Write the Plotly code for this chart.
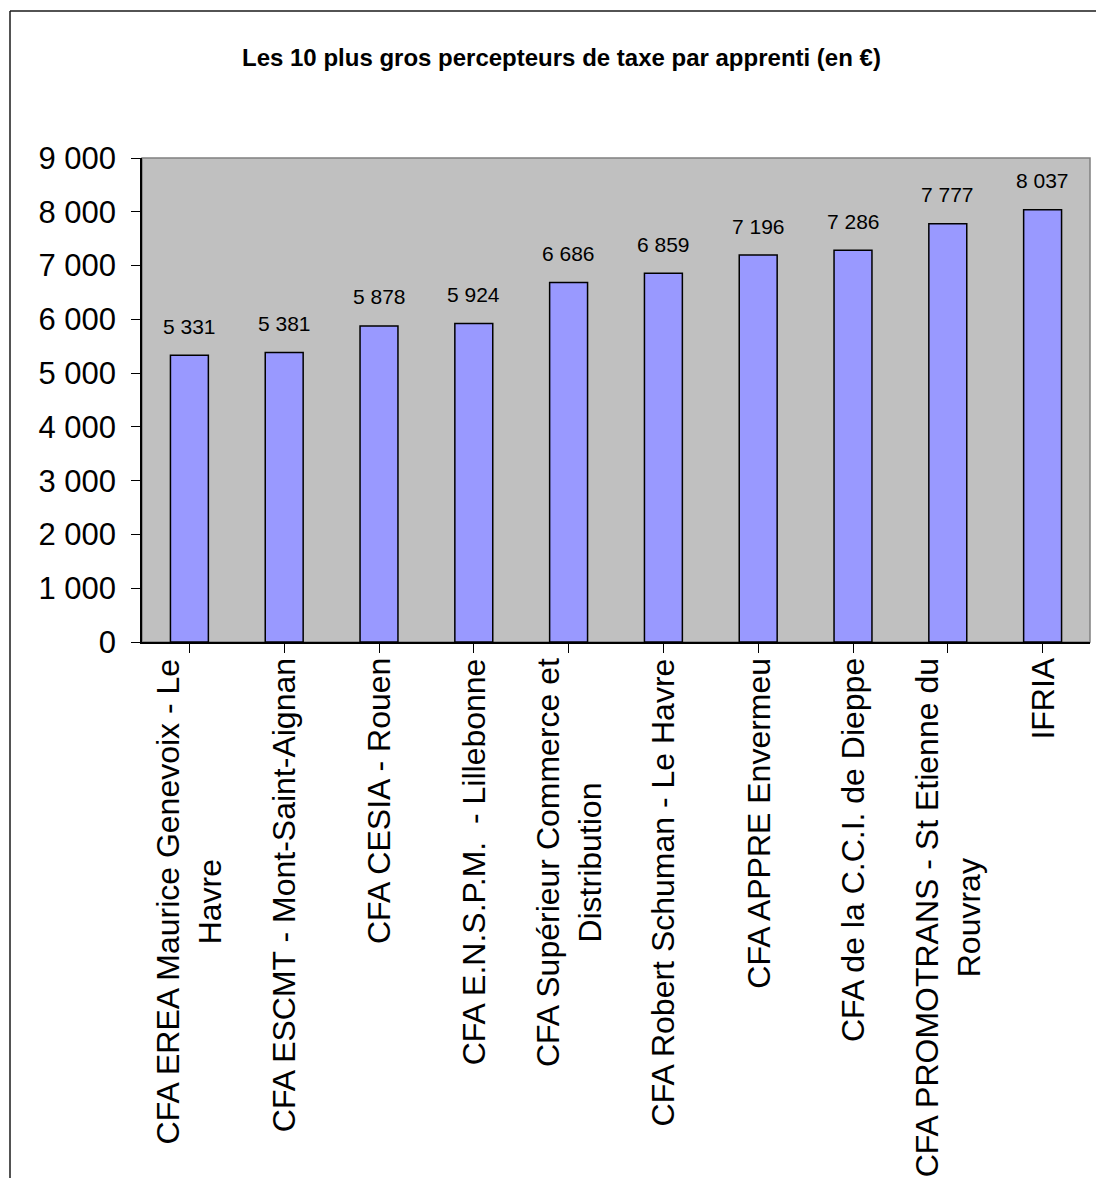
import plotly.graph_objects as go

categories = [
    "CFA EREA Maurice Genevoix - Le<br>Havre",
    "CFA ESCMT - Mont-Saint-Aignan",
    "CFA CESIA - Rouen",
    "CFA E.N.S.P.M.  - Lillebonne",
    "CFA Supérieur Commerce et<br>Distribution",
    "CFA Robert Schuman - Le Havre",
    "CFA APPRE Envermeu",
    "CFA de la C.C.I. de Dieppe",
    "CFA PROMOTRANS - St Etienne du<br>Rouvray",
    "IFRIA",
]
values = [5331, 5381, 5878, 5924, 6686, 6859, 7196, 7286, 7777, 8037]
y_ticks = [0, 1000, 2000, 3000, 4000, 5000, 6000, 7000, 8000, 9000]
title_text = "Les 10 plus gros percepteurs de taxe par apprenti (en €)"

FONT = "Liberation Sans, Arial, sans-serif"

def fmt(v):
    return f"{v:,}".replace(",", " ")

# paper coords helpers (plot area: x 142..1090, y 158..642)
def px_x(p):
    return (p - 142) / 948
def px_y(p):
    return (642 - p) / 484

fig = go.Figure()
fig.add_trace(go.Bar(
    x=list(range(len(categories))),
    y=values,
    width=0.4,
    marker=dict(color="#9999FF", line=dict(color="#000000", width=1.5)),
    hoverinfo="skip",
))

annotations = []
for i, v in enumerate(values):
    annotations.append(dict(
        x=i, y=v, xref="x", yref="y", text=fmt(v), showarrow=False,
        yanchor="middle", xanchor="center", yshift=29,
        font=dict(family=FONT, size=21, color="#000000"),
    ))
for i, c in enumerate(categories):
    annotations.append(dict(
        x=i, y=0, xref="x", yref="paper", text=c, showarrow=False,
        textangle=-90, align="center", xanchor="center", yanchor="top",
        yshift=-14,
        font=dict(family=FONT, size=32, color="#000000"),
    ))
annotations.append(dict(
    x=px_x(561), y=px_y(57), xref="paper", yref="paper",
    text="<b>" + title_text + "</b>", showarrow=False,
    xanchor="center", yanchor="middle",
    font=dict(family=FONT, size=24, color="#000000"),
))

shapes = [
    dict(type="rect", xref="paper", yref="paper", x0=0, x1=1, y0=0, y1=1,
         line=dict(color="#808080", width=1.5), layer="below"),
    dict(type="line", xref="paper", yref="paper", x0=px_x(10), x1=px_x(10),
         y0=px_y(11), y1=px_y(1190), line=dict(color="#1a1a1a", width=1.5)),
    dict(type="line", xref="paper", yref="paper", x0=px_x(10), x1=px_x(1120),
         y0=px_y(11), y1=px_y(11), line=dict(color="#1a1a1a", width=1.5)),
]

fig.update_layout(
    width=1096, height=1178,
    margin=dict(l=142, r=6, t=158, b=536),
    paper_bgcolor="#FFFFFF",
    plot_bgcolor="#C0C0C0",
    showlegend=False,
    separators=", ",
    annotations=annotations,
    shapes=shapes,
    font=dict(family=FONT, color="#000000"),
    xaxis=dict(
        range=[-0.5, len(categories) - 0.5],
        tickmode="array", tickvals=list(range(len(categories))),
        showticklabels=False, tickson="boundaries",
        ticks="outside", ticklen=9, tickwidth=1, tickcolor="#000000",
        showline=True, linecolor="#000000", linewidth=1.5,
        showgrid=False, zeroline=False, fixedrange=True,
    ),
    yaxis=dict(
        range=[0, 9000], tickmode="array", tickvals=y_ticks,
        ticktext=[fmt(t) for t in y_ticks],
        ticks="outside", ticklen=9, tickwidth=1, tickcolor="#000000",
        ticklabelstandoff=9,
        tickfont=dict(family=FONT, size=31, color="#000000"),
        showline=True, linecolor="#000000", linewidth=1.5,
        showgrid=False, zeroline=False, fixedrange=True,
    ),
)

fig.write_html("out.html")
